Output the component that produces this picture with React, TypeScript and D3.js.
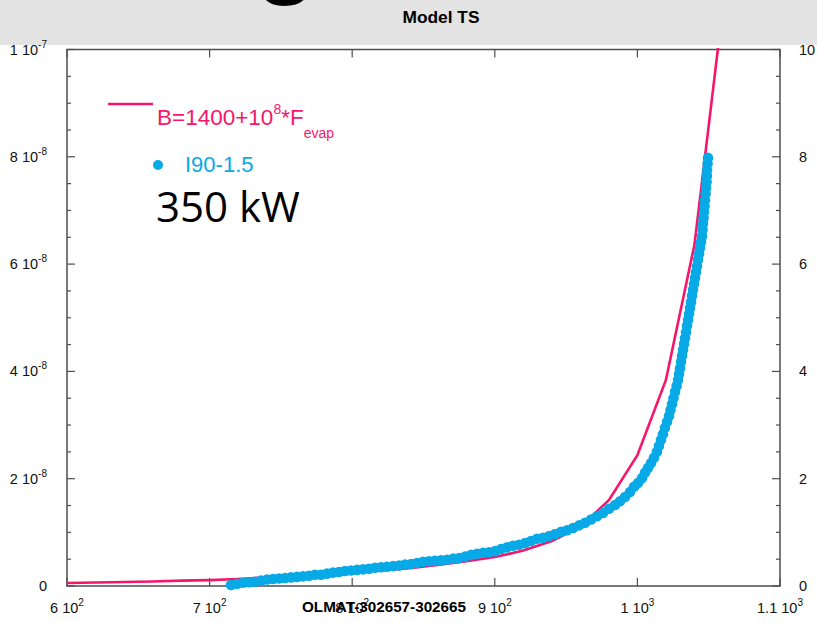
import React, { useEffect } from "react";
import * as d3 from "d3";

const W = 817;
const H = 622;

// Model curve B=1400+1e8*Fevap (temperature vs Fevap, Fevap in units of 1e-8)
const modelT = [600, 620, 640, 660, 680, 700, 720, 740, 760, 780, 800, 820, 840, 860, 880, 900, 920, 940, 960, 980, 1000, 1020, 1040, 1060];
const modelF_e8 = [0.055, 0.065, 0.075, 0.085, 0.1, 0.11, 0.13, 0.16, 0.19, 0.22, 0.26, 0.29, 0.33, 0.39, 0.46, 0.54, 0.66, 0.84, 1.1, 1.6, 2.44, 3.84, 6.36, 10.8];

// Measured series I90-1.5 (temperature, Fevap in units of 1e-8)
const obsT = [715.0, 719.2, 723.4, 727.6, 731.8, 736.0, 740.3, 744.5, 748.7, 752.9, 757.1, 761.3, 765.5, 769.7, 773.9, 778.1, 782.3, 786.5, 790.7, 795.0, 799.2, 803.4, 807.6, 811.8, 816.0, 820.2, 824.4, 828.7, 832.9, 837.1, 841.3, 845.5, 849.7, 853.9, 858.1, 862.3, 866.5, 870.8, 875.0, 879.2, 883.4, 887.6, 891.8, 896.0, 900.2, 904.4, 908.6, 912.8, 917.0, 921.2, 925.4, 929.6, 933.9, 938.1, 942.3, 946.5, 950.7, 954.9, 959.1, 963.3, 967.5, 971.7, 975.9, 980.1, 984.3, 987.8, 991.3, 994.8, 997.6, 1000.4, 1003.2, 1005.3, 1007.4, 1009.5, 1011.6, 1013.7, 1015.1, 1016.5, 1017.9, 1019.3, 1020.8, 1022.2, 1023.2, 1024.3, 1025.3, 1026.4, 1027.5, 1028.5, 1029.2, 1029.9, 1030.6, 1031.3, 1032.0, 1032.7, 1033.4, 1034.1, 1034.8, 1035.5, 1036.2, 1036.9, 1037.6, 1038.3, 1039.0, 1039.7, 1040.4, 1041.1, 1041.8, 1042.5, 1043.2, 1043.9, 1044.6, 1045.3, 1045.7, 1046.0, 1046.4, 1046.7, 1047.1, 1047.4, 1047.8, 1048.1, 1048.5, 1048.8, 1048.8, 1049.2, 1049.5];
const obsF_e8 = [0.02, 0.04, 0.06, 0.07, 0.08, 0.1, 0.12, 0.13, 0.14, 0.15, 0.16, 0.17, 0.18, 0.19, 0.21, 0.21, 0.23, 0.25, 0.26, 0.28, 0.29, 0.3, 0.31, 0.32, 0.34, 0.35, 0.36, 0.37, 0.38, 0.4, 0.41, 0.43, 0.45, 0.46, 0.47, 0.48, 0.49, 0.51, 0.52, 0.55, 0.58, 0.6, 0.62, 0.63, 0.65, 0.69, 0.72, 0.75, 0.77, 0.8, 0.84, 0.88, 0.9, 0.93, 0.97, 1.01, 1.04, 1.08, 1.13, 1.18, 1.24, 1.3, 1.36, 1.44, 1.51, 1.58, 1.66, 1.75, 1.85, 1.92, 2.01, 2.11, 2.2, 2.29, 2.39, 2.5, 2.61, 2.72, 2.83, 2.95, 3.06, 3.17, 3.28, 3.39, 3.5, 3.62, 3.73, 3.84, 3.95, 4.06, 4.18, 4.29, 4.4, 4.51, 4.62, 4.73, 4.85, 4.96, 5.07, 5.18, 5.29, 5.41, 5.52, 5.63, 5.74, 5.85, 5.96, 6.08, 6.19, 6.3, 6.41, 6.52, 6.64, 6.75, 6.86, 6.97, 7.08, 7.19, 7.31, 7.42, 7.53, 7.64, 7.75, 7.87, 7.98];

const xTicks = [600, 700, 800, 900, 1000, 1100];
const xTickMant = ["6", "7", "8", "9", "1", "1.1"];
const xTickExp = ["2", "2", "2", "2", "3", "3"];
const yTicks_e8 = [0, 2, 4, 6, 8, 10];
const yLeftMant = ["0", "2", "4", "6", "8", "1"];
const yLeftExp = ["", "-8", "-8", "-8", "-8", "-7"];
const yRightLabels = ["0", "2", "4", "6", "8", "10"];

const PINK = "#f5166b";
const BLUE = "#07a9e6";
const FONT = "'Liberation Sans', Arial, Helvetica, sans-serif";

export default function App() {
  useEffect(() => {
    document.body.style.margin = "0";
  }, []);

  const L = 67, R = 780, T = 49.5, B = 586;
  const x = d3.scaleLinear().domain([600, 1100]).range([L, R]);
  const y = d3.scaleLinear().domain([0, 1e-7]).range([B, T]);

  const modelData = modelT.map((t, i) => [t, modelF_e8[i] * 1e-8] as [number, number]);
  const line = d3.line<[number, number]>().x(d => x(d[0])).y(d => y(d[1]));

  const minorY = d3.range(0, 10.001, 0.5).map(v => v * 1e-8);
  const frame = "#4e4e4e";

  return (
    <svg width={W} height={H} style={{ display: "block", background: "#fff" }} fontFamily={FONT}>
      <defs>
        <clipPath id="plotclip">
          <rect x={L} y={T - 1.5} width={R - L} height={B - T + 1.5} />
        </clipPath>
      </defs>
      {/* header band */}
      <rect x={0} y={0} width={W} height={45} fill="#e3e3e3" />
      <text x={255} y={-15} fontSize={102} fontWeight="bold" fill="#000">g</text>
      <text x={441} y={23} textAnchor="middle" fontSize={16} fontWeight="bold" fill="#000" textLength={77} lengthAdjust="spacingAndGlyphs">Model TS</text>

      {/* frame */}
      <rect x={L} y={T} width={R - L} height={B - T} fill="none" stroke={frame} strokeWidth={1.5} />

      {/* y ticks left & right */}
      {minorY.map((v, i) => {
        const major = Math.abs((v / 1e-8) % 2) < 1e-6;
        const len = major ? 8 : 4;
        return (
          <g key={"yt" + i} stroke={frame} strokeWidth={1.2}>
            <line x1={L} x2={L + len} y1={y(v)} y2={y(v)} />
            <line x1={R} x2={R - len} y1={y(v)} y2={y(v)} />
          </g>
        );
      })}
      {/* x ticks top & bottom */}
      {xTicks.map((t, i) => (
        <g key={"xt" + i} stroke={frame} strokeWidth={1.2}>
          <line x1={x(t)} x2={x(t)} y1={B} y2={B - 8} />
          <line x1={x(t)} x2={x(t)} y1={T} y2={T + 8} />
        </g>
      ))}

      {/* left labels */}
      {yTicks_e8.map((v, i) => (
        <text key={"yl" + i} x={47} y={y(v * 1e-8) + 5} textAnchor="end" fontSize={14.5} fill="#111">
          {yLeftExp[i] ? (
            <>
              {yLeftMant[i] + " 10"}
              <tspan dy={-7} fontSize={10}>{yLeftExp[i]}</tspan>
            </>
          ) : (
            yLeftMant[i]
          )}
        </text>
      ))}
      {/* right labels */}
      {yTicks_e8.map((v, i) => (
        <text key={"yr" + i} x={799} y={y(v * 1e-8) + 5} textAnchor="start" fontSize={14.5} fill="#111">
          {yRightLabels[i]}
        </text>
      ))}
      {/* bottom labels */}
      {xTicks.map((t, i) => (
        <text key={"xl" + i} x={x(t)} y={613} textAnchor="middle" fontSize={14.5} fill="#111">
          {xTickMant[i] + " 10"}
          <tspan dy={-7} fontSize={10}>{xTickExp[i]}</tspan>
        </text>
      ))}
      <text x={384} y={612} textAnchor="middle" fontSize={15.5} fontWeight="bold" fill="#000" textLength={164} lengthAdjust="spacingAndGlyphs">OLMAT-302657-302665</text>

      {/* model line */}
      <g clipPath="url(#plotclip)">
        <path d={line(modelData) || ""} fill="none" stroke={PINK} strokeWidth={2.6} />
      </g>
      {/* observations */}
      <g>
        {obsT.map((t, i) => (
          <circle key={"o" + i} cx={x(t)} cy={y(obsF_e8[i] * 1e-8)} r={5.3} fill={BLUE} />
        ))}
      </g>

      {/* legend */}
      <line x1={108} x2={153} y1={104} y2={104} stroke={PINK} strokeWidth={2.6} />
      <text x={157} y={125} fontSize={22.5} fill={PINK}>
        B=1400+10
        <tspan dy={-11} fontSize={14}>8</tspan>
        <tspan dy={11}>*F</tspan>
        <tspan dy={13} fontSize={14}>evap</tspan>
      </text>
      <circle cx={158} cy={165} r={5} fill={BLUE} />
      <text x={185} y={172} fontSize={22} fill={BLUE}>I90-1.5</text>
      <text x={156} y={222} fontSize={42} fill="#000" fontFamily="'Open Sans', sans-serif">350 kW</text>
    </svg>
  );
}
